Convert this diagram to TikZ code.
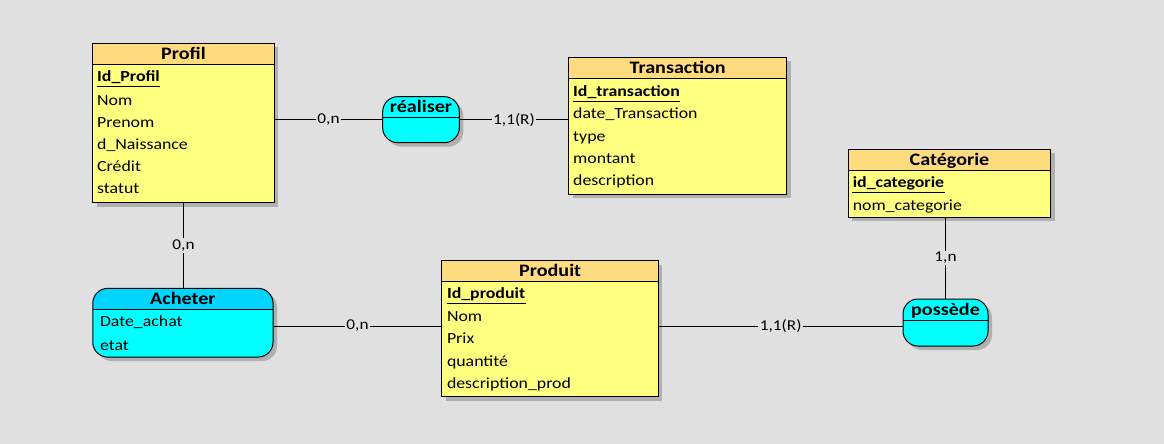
\documentclass[tikz,border=0pt]{standalone}
\usepackage{fontspec}
\setmainfont{Carlito}[FakeStretch=1.15]
\usetikzlibrary{shadows,calc}
\definecolor{bg}{HTML}{E0E0E0}
\definecolor{enthead}{HTML}{FFDB80}
\definecolor{entbody}{HTML}{FFFF80}
\definecolor{relbody}{HTML}{00FFFF}
\definecolor{relhead}{HTML}{00D5FF}
\definecolor{shade}{HTML}{B0B0B0}
\begin{document}
\begin{tikzpicture}[x=1pt,y=-1pt,line width=1pt,
  box/.style={draw=black,inner sep=0pt,
    drop shadow={shadow xshift=4pt,shadow yshift=-4pt,fill=shade,opacity=1}},
  entity/.style={box,fill=entbody,
    path picture={\fill[enthead,sharp corners] (path picture bounding box.north west) rectangle ([yshift=-21pt]path picture bounding box.north east);
      \draw[sharp corners] ([yshift=-21pt]path picture bounding box.north west) -- ([yshift=-21pt]path picture bounding box.north east);}},
  relation/.style={box,fill=relbody,rounded corners=15pt,
    path picture={\fill[#1,sharp corners] (path picture bounding box.north west) rectangle ([yshift=-21pt]path picture bounding box.north east);
      \draw[sharp corners] ([yshift=-21pt]path picture bounding box.north west) -- ([yshift=-21pt]path picture bounding box.north east);}},
  relation/.default=relbody,
  title/.style={inner sep=0pt,yshift=-1.5pt,font=\fontsize{17.5}{20}\selectfont\bfseries,text height=12pt,text depth=3.5pt},
  attr/.style={anchor=west,inner sep=0pt,yshift=-1.5pt,font=\fontsize{15.5}{18}\selectfont,text height=10.5pt,text depth=3pt},
  idattr/.style={attr,font=\fontsize{15.5}{18}\selectfont\bfseries},
  card/.style={fill=bg,inner sep=1.5pt,font=\fontsize{15}{18}\selectfont}
]
\useasboundingbox[fill=bg] (0,0) rectangle (1164,444);

% Entities
\node[entity,minimum width=181.6pt,minimum height=159.4pt] (profil) at (183.5,123) {};
\node[entity,minimum width=218pt,minimum height=137pt] (transaction) at (677.7,125.8) {};
\node[entity,minimum width=202.4pt,minimum height=68pt] (categorie) at (949.5,183) {};
\node[entity,minimum width=216.5pt,minimum height=136pt] (produit) at (550.2,328.7) {};
% Relations
\node[relation=relhead,minimum width=180.3pt,minimum height=68.7pt] (acheter) at (182.9,322.7) {};
\node[relation,minimum width=76.6pt,minimum height=46pt] (realiser) at (421,119.7) {};
\node[relation,minimum width=85pt,minimum height=47pt] (possede) at (945.5,322.5) {};

% Titles
\node[title] (tprofil) at (183.5,54) {Profil};
\node[title] (ttransaction) at (677.7,68) {Transaction};
\node[title] (tcategorie) at (949.5,159.5) {Catégorie};
\node[title] (tproduit) at (550.2,271) {Produit};
\node[title] (tacheter) at (182.9,299) {Acheter};
\node[title] (trealiser) at (421,107) {réaliser};
\node[title] (tpossede) at (945.5,310) {possède};

% Profil attributes
\node[idattr] (pid) at (96.7,76.7) {Id\_Profil};
\draw ([yshift=-1.5pt]pid.south west) -- ([yshift=-1.5pt]pid.south east);
\node[attr] (pnom) at (96.7,100) {Nom};
\node[attr] (pprenom) at (96.7,122) {Prenom};
\node[attr] (pnaiss) at (96.7,144) {d\_Naissance};
\node[attr] (pcredit) at (96.7,166.5) {Crédit};
\node[attr] (pstatut) at (96.7,188.5) {statut};

% Transaction attributes
\node[idattr] (tid) at (572.7,91.7) {Id\_transaction};
\draw ([yshift=-1.5pt]tid.south west) -- ([yshift=-1.5pt]tid.south east);
\node[attr] (tdate) at (572.7,113.5) {date\_Transaction};
\node[attr] (ttype) at (572.7,136) {type};
\node[attr] (tmontant) at (572.7,158) {montant};
\node[attr] (tdesc) at (572.7,180) {description};

% Categorie attributes
\node[idattr] (cid) at (852.3,182.3) {id\_categorie};
\draw ([yshift=-1.5pt]cid.south west) -- ([yshift=-1.5pt]cid.south east);
\node[attr] (cnom) at (852.3,205) {nom\_categorie};

% Produit attributes
\node[idattr] (prid) at (446.5,293.5) {Id\_produit};
\draw ([yshift=-1.5pt]prid.south west) -- ([yshift=-1.5pt]prid.south east);
\node[attr] (prnom) at (446.5,316.7) {Nom};
\node[attr] (prprix) at (446.5,338.7) {Prix};
\node[attr] (prqte) at (446.5,361) {quantité};
\node[attr] (prdesc) at (446.5,383.3) {description\_prod};

% Acheter attributes
\node[attr] (adate) at (99.5,321.7) {Date\_achat};
\node[attr] (aetat) at (99.5,345) {etat};

% Connectors
\coordinate (ap) at (350,326);
\draw (profil.east |- realiser.west) -- node[card] (c1) {0,n} (realiser.west);
\draw (realiser.east) -- node[card] (c2) {1,1(R)} (transaction.west |- realiser.east);
\draw (profil.south) -- node[card] (c3) {0,n} (profil.south |- acheter.north);
\draw (acheter.east |- ap) -- node[card] (c4) {0,n} (produit.west |- ap);
\draw (produit.east |- ap) -- node[card] (c5) {1,1(R)} (possede.west |- ap);
\draw (categorie.south -| possede.north) -- node[card] (c6) {1,n} (possede.north);
\end{tikzpicture}
\end{document}
